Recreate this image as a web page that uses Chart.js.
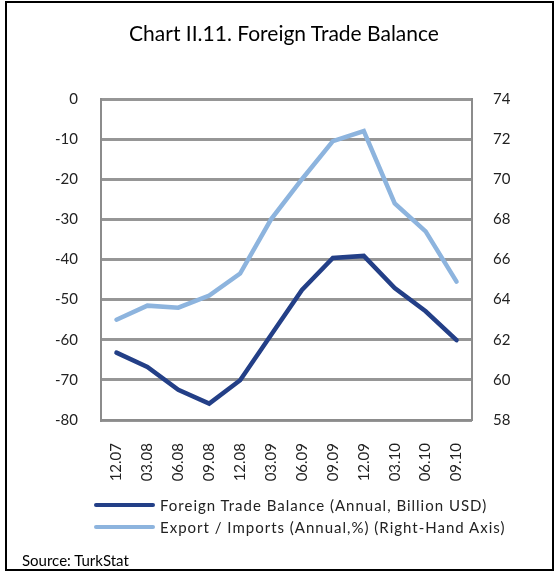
<!DOCTYPE html>
<html>
<head>
<meta charset="utf-8">
<script src="https://cdn.jsdelivr.net/npm/chart.js@4.4.1/dist/chart.umd.min.js"></script>
<style>
  html, body { margin: 0; padding: 0; background: #fff; }
  #wrap { position: relative; width: 555px; height: 572px; overflow: hidden; font-family: Lato, "Open Sans", sans-serif; }
  #frame { position: absolute; left: 5px; top: 1px; width: 545px; height: 566px; border: 2px solid #000; }
  #chart { position: absolute; left: 0; top: 0; }
  #title { position: absolute; left: 0; width: 568px; top: 20px; text-align: center; font-size: 21px; color: #000; }
  #legend { position: absolute; left: 94px; top: 494px; font-size: 15px; letter-spacing: 1px; color: #222; }
  .item { height: 22px; display: flex; align-items: center; }
  .swatch { width: 61px; height: 4px; margin-right: 5px; border-radius: 2px; }
  #source { position: absolute; left: 22px; top: 551px; font-size: 15px; color: #000; }
</style>
</head>
<body>
<div id="wrap">
  <div id="frame"></div>
  <canvas id="chart" width="555" height="572"></canvas>
  <div id="title">Chart II.11. Foreign Trade Balance</div>
  <div id="legend"></div>
  <div id="source">Source: TurkStat</div>
</div>
<script>
const quarters = ['12.07', '03.08', '06.08', '09.08', '12.08', '03.09', '06.09', '09.09', '12.09', '03.10', '06.10', '09.10'];
const tradeBalance = [-63.2, -66.8, -72.5, -75.9, -70.1, -58.8, -47.6, -39.6, -39.1, -47.1, -52.9, -60.1];
const exportImports = [63.0, 63.7, 63.6, 64.2, 65.3, 68.0, 70.0, 71.9, 72.4, 68.8, 67.4, 64.9];

const darkBlue = '#233f87';
const lightBlue = '#8db4de';
const gridGrey = '#8c8c8c';
const tickFont = { family: 'Lato', size: 15 };

const ctx = document.getElementById('chart').getContext('2d');

const chart = new Chart(ctx, {
    type: 'line',
    data: {
        labels: quarters,
        datasets: [
            {
                label: 'Foreign Trade Balance (Annual, Billion USD)',
                data: tradeBalance,
                borderColor: darkBlue,
                backgroundColor: darkBlue,
                borderWidth: 4.5,
                pointRadius: 0,
                borderCapStyle: 'round',
                yAxisID: 'y'
            },
            {
                label: 'Export / Imports (Annual,%) (Right-Hand Axis)',
                data: exportImports,
                borderColor: lightBlue,
                backgroundColor: lightBlue,
                borderWidth: 4.5,
                pointRadius: 0,
                borderCapStyle: 'round',
                yAxisID: 'y1'
            }
        ]
    },
    options: {
        responsive: false,
        animation: false,
        devicePixelRatio: 1,
        layout: { padding: { top: 99, left: 0, right: 0, bottom: 0 } },
        plugins: {
            legend: { display: false },
            title: { display: false },
            tooltip: { enabled: false }
        },
        scales: {
            x: {
                offset: true,
                grid: { drawOnChartArea: false, drawTicks: false },
                border: { color: gridGrey, width: 2 },
                ticks: { minRotation: 90, maxRotation: 90, autoSkip: false, padding: 23, font: tickFont, color: '#222' },
                afterFit: scale => { scale.height = 152; }
            },
            y: {
                position: 'left',
                min: -80,
                max: 0,
                grid: { color: 'rgb(150,150,150)', lineWidth: 3, drawTicks: false },
                border: { color: gridGrey, width: 2 },
                ticks: { stepSize: 10, padding: 23, font: tickFont, color: '#222' },
                afterFit: scale => { scale.width = 101; }
            },
            y1: {
                position: 'right',
                min: 58,
                max: 74,
                grid: { drawOnChartArea: false, drawTicks: false },
                border: { color: gridGrey, width: 2 },
                ticks: { stepSize: 2, padding: 21, font: tickFont, color: '#222' },
                afterFit: scale => { scale.width = 83; }
            }
        }
    }
});

// legend from the chart's own datasets
const legendEl = document.getElementById('legend');
chart.data.datasets.forEach(ds => {
    const row = document.createElement('div');
    row.className = 'item';
    row.innerHTML = '<span class="swatch" style="background:' + ds.borderColor + '"></span>' + ds.label;
    legendEl.appendChild(row);
});
</script>
</body>
</html>
